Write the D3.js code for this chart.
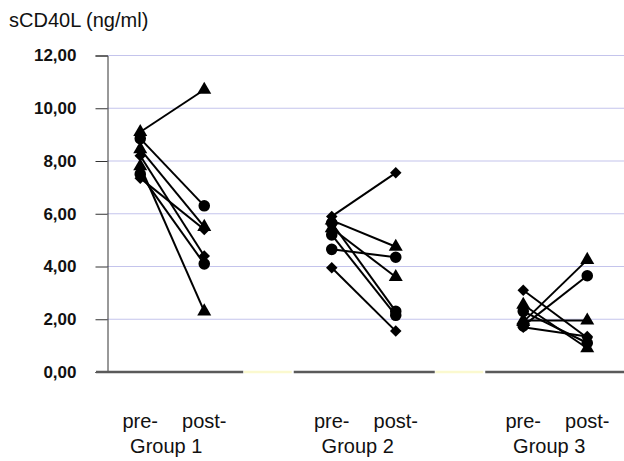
<html>
<head>
<meta charset="utf-8">
<title>sCD40L</title>
<script src="https://d3js.org/d3.v7.min.js"></script>
<style>
  body { margin:0; background:#fff; }
  text { font-family: Arial, "Liberation Sans", sans-serif; }
</style>
</head>
<body>
<script>
var w = 624, h = 461;

// data
var groups = ["Group 1", "Group 2", "Group 3"];
var phases = ["pre-", "post-"];
var yTicks = [0, 2, 4, 6, 8, 10, 12];
// one entry per patient: group, marker shape, pre value, post value
var patientGroup = ["Group 1","Group 1","Group 1","Group 1","Group 1","Group 1","Group 1",
                    "Group 2","Group 2","Group 2","Group 2","Group 2","Group 2","Group 2",
                    "Group 3","Group 3","Group 3","Group 3","Group 3","Group 3","Group 3"];
var patientMarker = ["tri","circle","tri","diamond","circle","diamond","tri",
                     "diamond","tri","circle","tri","circle","circle","diamond",
                     "diamond","tri","circle","tri","tri","circle","diamond"];
var preValues  = [9.1, 8.85, 8.45, 8.2, 7.5, 7.35, 7.8,
                  5.9, 5.75, 5.65, 5.45, 5.2, 4.65, 3.95,
                  3.1, 2.55, 1.75, 1.9, 1.95, 2.3, 1.7];
var postValues = [10.7, 6.3, 5.5, 4.4, 4.1, 5.4, 2.3,
                  7.55, 4.75, 2.3, 3.6, 2.15, 4.35, 1.55,
                  1.3, 0.9, 3.65, 4.25, 1.95, 1.1, 1.35];

var svg = d3.select("body").append("svg").attr("width", w).attr("height", h);

var yScale = d3.scaleLinear().domain([0, 12]).range([372, 55.5]);
var xGroup = d3.scaleBand().domain(groups).range([76.5, 651]);
var xPhase = d3.scalePoint().domain(phases).range([-32, 32]);
function cx(g) { return xGroup(g) + xGroup.bandwidth() / 2; }

// title
svg.append("text").attr("x", 9).attr("y", 27).attr("font-size", 20)
   .attr("fill", "#111").text("sCD40L (ng/ml)");

// grid lines
svg.append("g").selectAll("line").data(yTicks.filter(function(d){ return d > 0; }))
   .enter().append("line")
   .attr("x1", 107).attr("x2", w)
   .attr("y1", function(d){ return yScale(d); }).attr("y2", function(d){ return yScale(d); })
   .attr("stroke", "#c4c4ec").attr("stroke-width", 1.2);

// y axis
var yAxis = d3.axisLeft(yScale).tickValues(yTicks).tickSize(12)
   .tickFormat(function(d){ return d3.format(".2f")(d).replace(".", ","); });
var gy = svg.append("g").attr("transform", "translate(107.5,0)").call(yAxis);
gy.select(".domain").attr("stroke", "#333");
gy.selectAll(".tick line").attr("stroke", "#333");
gy.selectAll(".tick text").attr("font-size", 17).attr("font-weight", "bold")
   .attr("fill", "#111").attr("x", -31)
   .attr("font-family", "Arial, 'Liberation Sans', sans-serif");

// baseline segments (broken x axis)
svg.append("g").selectAll("line").data(groups).enter().append("line")
   .attr("x1", function(g, i){ return i === 0 ? 96 : cx(g) - 70; })
   .attr("x2", function(g){ return Math.min(w, cx(g) + 71); })
   .attr("y1", yScale(0)).attr("y2", yScale(0))
   .attr("stroke", "#5a5a5a").attr("stroke-width", 2.5);
svg.append("g").selectAll("line").data(groups.slice(1)).enter().append("line")
   .attr("x1", function(g){ return cx(g) - 70 - 50; })
   .attr("x2", function(g){ return cx(g) - 72; })
   .attr("y1", yScale(0)).attr("y2", yScale(0))
   .attr("stroke", "#fbf9cf").attr("stroke-width", 2.5);

// x labels
groups.forEach(function(g){
  phases.forEach(function(p){
    svg.append("text").attr("x", cx(g) + xPhase(p) + (p === "pre-" ? 0 : 0))
       .attr("y", 428).attr("text-anchor", "middle").attr("font-size", 20)
       .attr("fill", "#111").text(p);
  });
  svg.append("text").attr("x", cx(g) - 6).attr("y", 453).attr("text-anchor", "middle")
     .attr("font-size", 20).attr("fill", "#111").text(g);
});

// patient lines
var idx = d3.range(preValues.length);
svg.append("g").selectAll("line").data(idx).enter().append("line")
   .attr("x1", function(i){ return cx(patientGroup[i]) + xPhase("pre-"); })
   .attr("x2", function(i){ return cx(patientGroup[i]) + xPhase("post-"); })
   .attr("y1", function(i){ return yScale(preValues[i]); })
   .attr("y2", function(i){ return yScale(postValues[i]); })
   .attr("stroke", "#000").attr("stroke-width", 2);

// markers
var sym = {
  tri: d3.symbol().type(d3.symbolTriangle).size(85),
  circle: d3.symbol().type(d3.symbolCircle).size(105),
  diamond: d3.symbol().type(d3.symbolSquare).size(66)
};
var pts = [];
idx.forEach(function(i){
  pts.push({g: patientGroup[i], p: "pre-", v: preValues[i], m: patientMarker[i]});
  pts.push({g: patientGroup[i], p: "post-", v: postValues[i], m: patientMarker[i]});
});
svg.append("g").selectAll("path").data(pts).enter().append("path")
   .attr("d", function(d){ return sym[d.m](); })
   .attr("transform", function(d){
     var t = "translate(" + (cx(d.g) + xPhase(d.p)) + "," + yScale(d.v) + ")";
     return d.m === "diamond" ? t + " rotate(45)" : t;
   })
   .attr("fill", "#000");
</script>
</body>
</html>
